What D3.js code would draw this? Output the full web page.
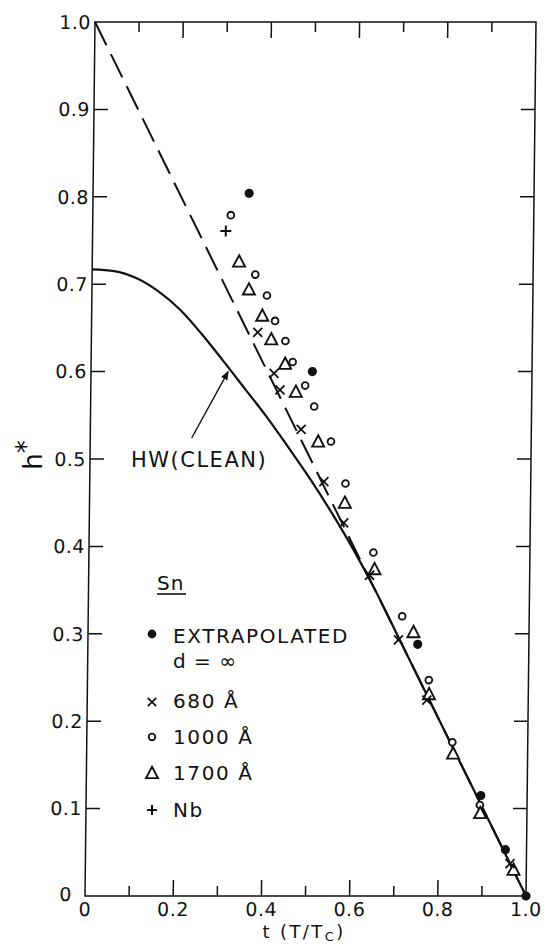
<!DOCTYPE html>
<html>
<head>
<meta charset="utf-8">
<script src="https://cdn.jsdelivr.net/npm/d3@7"></script>
<style>
  html, body { margin: 0; padding: 0; background: #fff; }
  svg { display: block; }
  text { font-family: "DejaVu Sans", sans-serif; fill: #111; }
</style>
</head>
<body>
<svg id="chart" width="547" height="944"></svg>
<script>
// ---- data -------------------------------------------------------------
// Extrapolated to d = infinity (filled dots)
const extrapT = [0.354, 0.502, 0.748, 0.895, 0.952, 1.0];
const extrapH = [0.804, 0.600, 0.288, 0.115, 0.053, 0.0];
// 680 Å films (crosses)
const t680 = [0.377, 0.415, 0.429, 0.478, 0.531, 0.577, 0.637, 0.704, 0.770, 0.963];
const h680 = [0.645, 0.598, 0.579, 0.534, 0.474, 0.427, 0.367, 0.293, 0.224, 0.037];
// 1000 Å films (open circles)
const t1000 = [0.313, 0.370, 0.397, 0.416, 0.440, 0.457, 0.486, 0.507, 0.546, 0.580, 0.645, 0.712, 0.774, 0.829, 0.893];
const h1000 = [0.779, 0.711, 0.687, 0.658, 0.635, 0.611, 0.584, 0.560, 0.520, 0.472, 0.393, 0.320, 0.247, 0.176, 0.104];
// 1700 Å films (open triangles)
const t1700 = [0.333, 0.356, 0.387, 0.408, 0.440, 0.465, 0.517, 0.579, 0.648, 0.738, 0.775, 0.831, 0.894, 0.971];
const h1700 = [0.726, 0.694, 0.664, 0.637, 0.609, 0.577, 0.520, 0.450, 0.374, 0.302, 0.231, 0.163, 0.095, 0.030];
// Nb (plus)
const tNb = [0.302];
const hNb = [0.761];
// HW (clean) theoretical curve
const hwT = [0, 0.05, 0.10, 0.15, 0.20, 0.25, 0.30, 0.35, 0.40, 0.45, 0.50, 0.55, 0.60, 0.65, 0.70, 0.80, 0.90, 1.0];
const hwH = [0.717, 0.715, 0.707, 0.692, 0.671, 0.643, 0.612, 0.580, 0.548, 0.513, 0.477, 0.438, 0.396, 0.350, 0.300, 0.200, 0.100, 0.0];
// straight dashed reference line h* = 1 - t
const lineT = [0, 1];
const lineH = [1, 0];
// axis ticks
const xTicks = [0, 0.1, 0.2, 0.3, 0.4, 0.5, 0.6, 0.7, 0.8, 0.9, 1.0];
const xTickLabels = ["0", "", "0.2", "", "0.4", "", "0.6", "", "0.8", "", "1.0"];
const yTicks = [0, 0.1, 0.2, 0.3, 0.4, 0.5, 0.6, 0.7, 0.8, 0.9, 1.0];
const yTickLabels = ["0", "0.1", "0.2", "0.3", "0.4", "0.5", "0.6", "0.7", "0.8", "0.9", "1.0"];
// annotation arrow (data coordinates: tail, head)
const arrowT = [0.230, 0.311];
const arrowH = [0.524, 0.600];

// ---- layout -------------------------------------------------------------
const plotLeft = 85, plotRight = 526, plotTop = 22, plotBottom = 896;
const x = d3.scaleLinear().domain([0, 1]).range([plotLeft, plotRight]);
const y = d3.scaleLinear().domain([0, 1]).range([plotBottom, plotTop]);

const svg = d3.select("#chart");

// the plotting frame leans slightly to the right toward the top
const lean = Math.atan(-10 / (plotBottom - plotTop)) * 180 / Math.PI;
const g = svg.append("g")
  .attr("transform", `translate(0,${plotBottom}) skewX(${lean}) translate(0,${-plotBottom})`);

const ink = "#111";

// frame
g.append("rect")
  .attr("x", plotLeft).attr("y", plotTop)
  .attr("width", plotRight - plotLeft).attr("height", plotBottom - plotTop)
  .attr("fill", "none").attr("stroke", ink).attr("stroke-width", 1.5);

// x ticks (bottom and top, pointing inward)
const xt = g.append("g");
xTicks.forEach((v, i) => {
  if (v === 0 || v === 1) return;
  const len = (i % 2 === 0) ? 16 : 10;
  xt.append("line").attr("x1", x(v)).attr("x2", x(v))
    .attr("y1", plotBottom).attr("y2", plotBottom - len)
    .attr("stroke", ink).attr("stroke-width", 1.5);
  xt.append("line").attr("x1", x(v)).attr("x2", x(v))
    .attr("y1", plotTop).attr("y2", plotTop + len)
    .attr("stroke", ink).attr("stroke-width", 1.5);
});
// x tick labels
xTicks.forEach((v, i) => {
  if (!xTickLabels[i]) return;
  g.append("text").attr("x", x(v)).attr("y", 916)
    .attr("text-anchor", "middle").attr("font-size", 19)
    .attr("letter-spacing", 0.5)
    .text(xTickLabels[i]);
});

// y ticks (left and right, pointing inward)
yTicks.forEach(v => {
  if (v === 0 || v === 1) return;
  g.append("line").attr("x1", plotLeft).attr("x2", plotLeft + 14)
    .attr("y1", y(v)).attr("y2", y(v))
    .attr("stroke", ink).attr("stroke-width", 1.5);
  g.append("line").attr("x1", plotRight).attr("x2", plotRight - 14)
    .attr("y1", y(v)).attr("y2", y(v))
    .attr("stroke", ink).attr("stroke-width", 1.5);
});
// y tick labels
yTicks.forEach((v, i) => {
  const isZero = v === 0;
  g.append("text")
    .attr("x", isZero ? plotLeft - 13 : plotLeft - 4)
    .attr("y", isZero ? y(v) - 2 : y(v))
    .attr("dy", "0.36em")
    .attr("text-anchor", "end").attr("font-size", 19)
    .attr("letter-spacing", 0.5)
    .text(yTickLabels[i]);
});

// dashed line h* = 1 - t
const lineFn = d3.line().x(d => x(d[0])).y(d => y(d[1]));
g.append("path")
  .datum(d3.zip(lineT, lineH))
  .attr("d", lineFn)
  .attr("fill", "none").attr("stroke", ink).attr("stroke-width", 2)
  .attr("stroke-dasharray", "26,10");

// HW (clean) curve
const hwFn = d3.line().x(d => x(d[0])).y(d => y(d[1])).curve(d3.curveMonotoneX);
g.append("path")
  .datum(d3.zip(hwT, hwH))
  .attr("d", hwFn)
  .attr("fill", "none").attr("stroke", ink).attr("stroke-width", 2.2);

// arrow from label to curve
svg.append("defs").append("marker")
  .attr("id", "head").attr("viewBox", "0 0 10 10")
  .attr("refX", 9).attr("refY", 5)
  .attr("markerWidth", 9).attr("markerHeight", 9)
  .attr("markerUnits", "userSpaceOnUse")
  .attr("orient", "auto")
  .append("path").attr("d", "M0,1 L10,5 L0,9 Z").attr("fill", ink);
g.append("line")
  .attr("x1", x(arrowT[0])).attr("y1", y(arrowH[0]))
  .attr("x2", x(arrowT[1])).attr("y2", y(arrowH[1]))
  .attr("stroke", ink).attr("stroke-width", 1.4)
  .attr("marker-end", "url(#head)");

// ---- marker shapes ------------------------------------------------------
function dot(sel, cx, cy, r) {
  sel.append("circle").attr("cx", cx).attr("cy", cy).attr("r", r).attr("fill", ink);
}
function ring(sel, cx, cy, r) {
  sel.append("circle").attr("cx", cx).attr("cy", cy).attr("r", r)
    .attr("fill", "#fff").attr("stroke", ink).attr("stroke-width", 1.8);
}
function tri(sel, cx, cy, s) {
  const h = s * 0.95;
  sel.append("path")
    .attr("d", `M${cx},${cy - h * 0.55} L${cx + s / 2},${cy + h * 0.45} L${cx - s / 2},${cy + h * 0.45} Z`)
    .attr("fill", "#fff").attr("stroke", ink).attr("stroke-width", 1.9)
    .attr("stroke-linejoin", "miter");
}
function cross(sel, cx, cy, s) {
  sel.append("path")
    .attr("d", `M${cx - s},${cy - s} L${cx + s},${cy + s} M${cx + s},${cy - s} L${cx - s},${cy + s}`)
    .attr("stroke", ink).attr("stroke-width", 1.8).attr("fill", "none");
}
function plus(sel, cx, cy, s) {
  sel.append("path")
    .attr("d", `M${cx - s},${cy} L${cx + s},${cy} M${cx},${cy - s} L${cx},${cy + s}`)
    .attr("stroke", ink).attr("stroke-width", 2).attr("fill", "none");
}

// ---- data marks ---------------------------------------------------------
const marks = g.append("g");
t1000.forEach((t, i) => ring(marks, x(t), y(h1000[i]), 3.4));
t1700.forEach((t, i) => tri(marks, x(t), y(h1700[i]), 12));
t680.forEach((t, i) => cross(marks, x(t), y(h680[i]), 4.5));
tNb.forEach((t, i) => plus(marks, x(t), y(hNb[i]), 5.5));
extrapT.forEach((t, i) => dot(marks, x(t), y(extrapH[i]), 4.6));

// ---- labels -------------------------------------------------------------
// y axis title h*
const yl = svg.append("text")
  .attr("transform", "translate(42,455) rotate(-90)")
  .attr("text-anchor", "middle").attr("font-size", 26);
yl.append("tspan").text("h");
yl.append("tspan").attr("dy", -7).attr("font-size", 26).text("*");

// x axis title t (T/Tc)
const xl = svg.append("text")
  .attr("x", 304).attr("y", 938)
  .attr("text-anchor", "middle").attr("font-size", 18)
  .attr("letter-spacing", 2.4);
xl.append("tspan").text("t (T/T");
xl.append("tspan").attr("font-size", 13).attr("dy", 3).text("C");
xl.append("tspan").attr("dy", -3).text(")");

// HW (clean) label
svg.append("text")
  .attr("x", 131).attr("y", 467)
  .attr("font-size", 21).attr("letter-spacing", 1.5)
  .text("HW(CLEAN)");

// legend
const lg = svg.append("g");
lg.append("text").attr("x", 157).attr("y", 590)
  .attr("font-size", 20).attr("letter-spacing", 1).text("Sn");
lg.append("line").attr("x1", 157).attr("x2", 186)
  .attr("y1", 594).attr("y2", 594).attr("stroke", ink).attr("stroke-width", 1.6);

const legendRows = [
  { mark: "dot", y: 636, text: "EXTRAPOLATED" },
  { mark: "cross", y: 701, text: "680 Å" },
  { mark: "ring", y: 737, text: "1000 Å" },
  { mark: "tri", y: 773, text: "1700 Å" },
  { mark: "plus", y: 810, text: "Nb" }
];
legendRows.forEach(r => {
  const mx = 152;
  if (r.mark === "dot") dot(lg, mx, r.y - 2, 4.4);
  if (r.mark === "cross") cross(lg, mx, r.y + 1, 4.2);
  if (r.mark === "ring") ring(lg, mx, r.y, 3.3);
  if (r.mark === "tri") tri(lg, mx, r.y, 12);
  if (r.mark === "plus") plus(lg, mx, r.y, 5);
  lg.append("text").attr("x", 173).attr("y", r.y + 7)
    .attr("font-size", 20).attr("letter-spacing", 1.6).text(r.text);
});
lg.append("text").attr("x", 173).attr("y", 668)
  .attr("font-size", 20).attr("letter-spacing", 1).text("d = ∞");
</script>
</body>
</html>
